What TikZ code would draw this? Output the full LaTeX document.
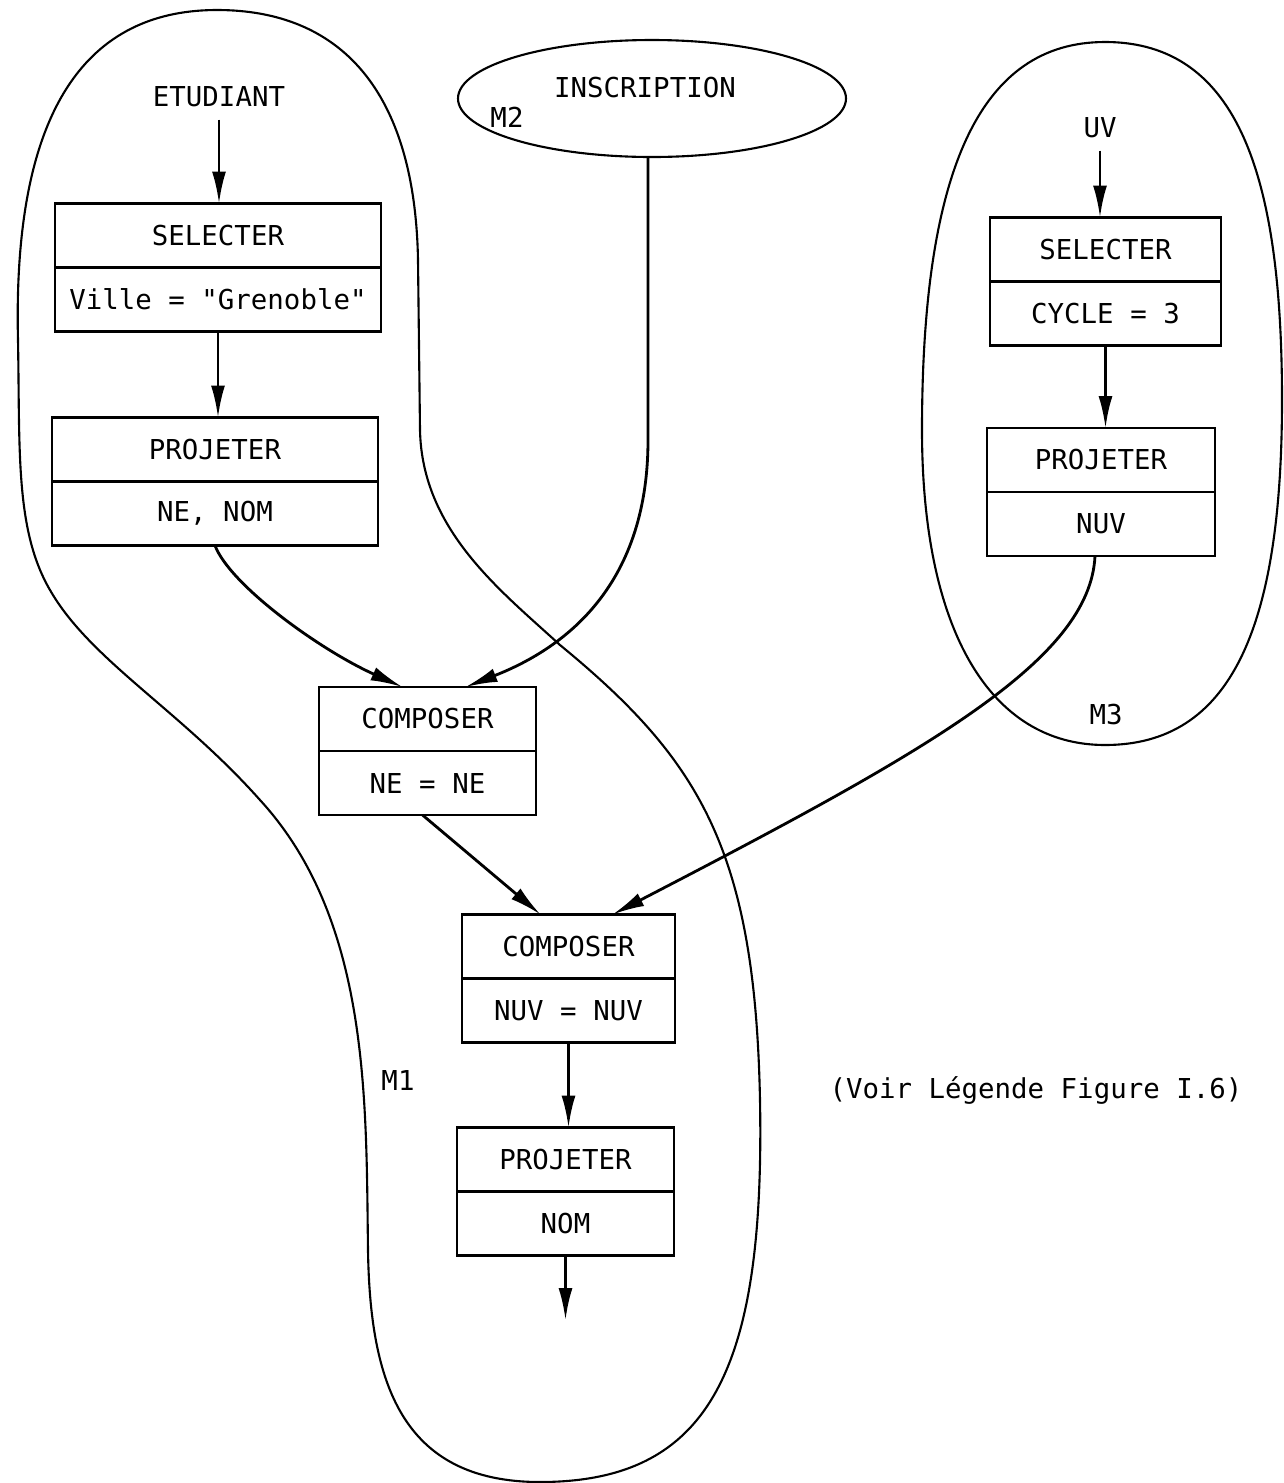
\documentclass[tikz,border=0pt]{standalone}
\usepackage{fontspec}
\usepackage{tikz}
\usetikzlibrary{positioning,shapes.geometric,arrows.meta}
\newfontfamily\typew{DejaVu Sans Mono}

\begin{document}
\begin{tikzpicture}[
        opbox/.style={draw, line width=0.8pt, outer sep=0pt, inner sep=0pt, minimum height=0.64cm},
        flow/.style={line width=0.8pt, -{Latex[length=3.2mm,width=1.4mm]}},
        blob/.style={line width=0.6pt},
        every node/.style={font=\typew\fontsize{7.8}{9}\selectfont}
    ]
        \useasboundingbox (0, 0) rectangle (12.84, -14.83);
        \foreach \n/\x/\y/\w/\op/\arg in {
                sel1/2.18/-2.355/3.26/SELECTER/{Ville = "Grenoble"},
                proj1/2.15/-4.495/3.26/PROJETER/{NE, NOM},
                comp1/4.275/-7.19/2.17/COMPOSER/{NE = NE},
                comp2/5.685/-9.465/2.13/COMPOSER/{NUV = NUV},
                proj2/5.655/-11.595/2.17/PROJETER/NOM,
                sel3/11.055/-2.495/2.31/SELECTER/{CYCLE = 3},
                proj3/11.01/-4.6/2.28/PROJETER/NUV} {
            \node[opbox, minimum width=\w cm] (\n) at (\x, \y) {\op};
            \node[opbox, minimum width=\w cm, below=0pt of \n] (\n-arg) {\arg};
        }
        \node (etud) at (2.19, -0.97) {ETUDIANT};
        \node (uv) at (11.0, -1.28) {UV};
        \node[draw, blob, ellipse, minimum width=3.88cm, minimum height=1.17cm, inner sep=0pt] (m2) at (6.52, -0.985) {};
        \node (inscr) at (6.45, -0.88) {INSCRIPTION};
        \node (lm2) at (5.07, -1.17) {M2};
        \node (lm1) at (3.98, -10.8) {M1};
        \node (lm3) at (11.06, -7.15) {M3};
        \node (voir) at (10.36, -10.9) {(Voir Légende Figure I.6)};
        \coordinate (bend) at (6.48, -4.4);
        \coordinate (out) at (5.63, -13.2);

        \draw[blob] (0.18, -3.4) .. controls (0.12, -0.9) and (1.0, -0.1) .. (2.17, -0.1)
            .. controls (3.4, -0.1) and (4.15, -0.9) .. (4.18, -2.6) -- (4.2, -4.3)
            .. controls (4.22, -5.3) and (5.0, -5.9) .. (5.6, -6.45)
            .. controls (7.0, -7.6) and (7.55, -8.5) .. (7.6, -11.0)
            .. controls (7.65, -13.7) and (7.1, -14.82) .. (5.4, -14.82)
            .. controls (4.0, -14.82) and (3.7, -13.8) .. (3.68, -12.5)
            .. controls (3.66, -11.0) and (3.7, -9.2) .. (2.6, -8.0)
            .. controls (1.8, -7.1) and (0.9, -6.6) .. (0.5, -5.9)
            .. controls (0.15, -5.3) and (0.2, -4.5) .. cycle;
        \draw[blob] (11.05, -0.42) .. controls (12.4, -0.42) and (12.82, -1.8) .. (12.82, -4.0)
            .. controls (12.82, -6.3) and (12.3, -7.45) .. (11.05, -7.45)
            .. controls (9.9, -7.45) and (9.22, -6.3) .. (9.22, -4.3)
            .. controls (9.22, -1.7) and (9.8, -0.42) .. cycle;

        \draw[flow] (etud) -- (etud |- sel1.north);
        \draw[flow] (sel1-arg) -- (sel1-arg |- proj1.north);
        \draw[flow] (uv) -- (uv |- sel3.north);
        \draw[flow] (sel3-arg) -- (sel3-arg |- proj3.north);
        \draw[flow] (proj1-arg.south) .. controls (2.3, -5.85) and (3.2, -6.5) .. ([xshift=-0.25cm]comp1.north);
        \draw[flow] (m2.south -| bend) -- (bend) .. controls (6.48, -5.9) and (5.6, -6.5) .. ([xshift=0.38cm]comp1.north);
        \draw[flow] ([xshift=-0.05cm]comp1-arg.south) -- ([xshift=-0.28cm]comp2.north);
        \draw[flow] ([xshift=-0.06cm]proj3-arg.south) .. controls (10.9, -6.6) and (9.3, -7.5) .. ([xshift=0.44cm]comp2.north);
        \draw[flow] (comp2-arg) -- (comp2-arg |- proj2.north);
        \draw[flow] (proj2-arg) -- (proj2-arg |- out);
    \end{tikzpicture}
\end{document}
